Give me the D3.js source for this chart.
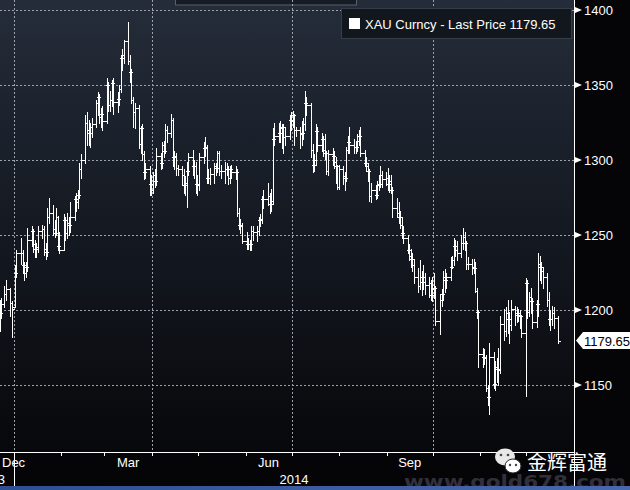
<!DOCTYPE html>
<html><head><meta charset="utf-8">
<script src="https://cdn.jsdelivr.net/npm/d3@7"></script>
<style>html,body{margin:0;padding:0;background:#000;overflow:hidden}</style>
</head><body>
<svg id="c" width="630" height="490"></svg>
<script>
// ---- data (XAU daily OHLC, Dec 23 2013 .. Dec 22 2014, trading days) ----
const firstDay = "2013-12-23", lastDay = "2014-12-22";
const holidays = ["2013-12-25", "2014-01-01"];
const open = [
 1197,1198,1204,1211,1214,1205,
 1202,1225,1238,1238,1230,1225,1229,1247,1253,1244,1241,1242,1253,1254,1241,1239,1262,1265,1254,1251,1262,1243,
 1240,1260,1251,1258,1257,1262,1274,1272,1277,1294,1300,1325,1320,1318,1322,1324,1338,1342,1329,1331,
 1326,1350,1337,1340,1351,1339,1341,1347,1368,1370,1379,1366,1359,1340,1332,1335,1311,1321,1304,1292,1294,
 1284,1280,1290,1286,1303,1298,1310,1306,1320,1318,1327,1302,1303,1295,1294,1290,1283,1285,1293,1302,1296,1296,
 1284,1283,1302,1308,1309,1288,1288,1291,1296,1295,1305,1293,1293,1294,1294,1288,1294,1292,1292,1265,1257,1256,
 1246,1244,1244,1244,1253,1252,1253,1260,1261,1274,1274,1276,1271,1273,1314,1316,1318,1321,1322,1315,1316,
 1327,1326,1330,1320,1320,1317,1318,1324,1338,1337,1307,1297,1300,1319,1310,1314,1307,1305,1293,1304,1303,1299,1296,
 1282,1294,1289,1288,1307,1312,1310,1309,1309,1313,1316,1305,1298,1296,1293,1276,1280,1277,1283,1284,1290,
 1287,1288,1284,1286,1280,1268,1265,1262,1257,1251,1248,1240,1236,1234,1230,1222,1216,1222,1219,1222,1217,1218,
 1210,1214,1215,1193,1207,1211,1222,1220,1222,1229,1233,1243,1240,1238,1245,1249,1245,1231,1231,1229,1228,1213,1199,
 1171,1169,1168,1148,1142,1169,1151,1162,1161,1160,1191,1186,1198,1194,1190,1201,1197,1198,1197,1196,
 1185,1218,1199,1209,1206,1192,1204,1231,1229,1226,1222,1207,1194,1194,1198,1195
];
const high = [
 1207,1208,1216,1220,1215,1206,
 1230,1240,1248,1240,1232,1232,1255,1256,1254,1247,1245,1256,1257,1256,1245,1268,1275,1270,1260,1268,1263,1252,
 1264,1262,1265,1262,1272,1276,1278,1280,1298,1304,1330,1332,1327,1325,1328,1340,1345,1344,1335,1336,
 1355,1352,1346,1353,1355,1345,1350,1370,1374,1380,1392,1370,1361,1342,1338,1337,1323,1324,1306,1298,1296,
 1290,1292,1294,1308,1305,1312,1313,1324,1323,1331,1328,1306,1305,1297,1296,1294,1289,1299,1305,1307,1300,1299,
 1290,1305,1312,1315,1310,1294,1295,1298,1298,1306,1306,1297,1299,1298,1296,1296,1297,1296,1294,1268,1261,1258,
 1252,1248,1247,1256,1256,1256,1262,1264,1276,1280,1285,1278,1281,1321,1325,1325,1326,1324,1324,1322,1330,
 1332,1333,1331,1322,1322,1326,1328,1346,1342,1338,1311,1304,1324,1322,1318,1316,1317,1306,1307,1308,1306,1302,1297,
 1297,1296,1292,1309,1316,1322,1314,1313,1317,1320,1322,1307,1302,1298,1294,1285,1283,1286,1290,1296,1293,
 1292,1295,1290,1290,1282,1275,1272,1266,1262,1256,1250,1244,1241,1238,1234,1228,1233,1226,1230,1225,1222,1220,
 1222,1225,1216,1211,1214,1226,1227,1225,1235,1236,1248,1247,1246,1250,1255,1252,1246,1235,1234,1234,1232,1215,1200,
 1175,1174,1170,1150,1178,1172,1166,1168,1175,1196,1201,1202,1207,1199,1207,1203,1202,1201,1200,1197,
 1221,1220,1212,1215,1208,1207,1238,1236,1232,1229,1225,1212,1200,1203,1202,1196
];
const low = [
 1186,1195,1202,1207,1196,1182,
 1202,1222,1231,1225,1220,1222,1226,1243,1239,1235,1235,1239,1248,1237,1234,1236,1258,1250,1249,1250,1240,1238,
 1240,1247,1248,1250,1252,1260,1266,1268,1275,1288,1298,1310,1310,1309,1315,1322,1330,1325,1322,1320,
 1325,1333,1333,1336,1331,1332,1337,1345,1360,1365,1364,1352,1338,1322,1321,1308,1305,1300,1287,1288,1277,
 1277,1278,1282,1283,1294,1295,1302,1305,1312,1315,1296,1294,1290,1290,1283,1278,1277,1269,1290,1290,1288,1278,
 1277,1280,1298,1303,1285,1285,1284,1285,1290,1292,1290,1288,1285,1290,1284,1285,1288,1287,1263,1254,1251,1245,
 1241,1241,1240,1240,1247,1246,1250,1256,1258,1268,1270,1265,1266,1271,1310,1312,1312,1308,1305,1310,1314,
 1320,1322,1310,1316,1308,1310,1314,1320,1330,1302,1292,1293,1297,1306,1306,1303,1301,1291,1290,1297,1295,1285,1281,
 1281,1284,1280,1286,1305,1305,1305,1305,1306,1310,1303,1296,1293,1286,1273,1272,1274,1275,1280,1282,1282,
 1283,1280,1279,1278,1262,1262,1258,1255,1248,1245,1238,1233,1229,1226,1218,1212,1214,1210,1214,1211,1209,1207,
 1206,1208,1190,1184,1203,1207,1212,1215,1220,1228,1230,1236,1233,1235,1241,1240,1227,1227,1224,1225,1212,1195,1162,
 1162,1164,1146,1137,1131,1148,1147,1152,1150,1158,1180,1183,1185,1178,1187,1190,1192,1193,1188,1182,
 1143,1195,1196,1198,1188,1189,1196,1220,1218,1215,1203,1190,1187,1190,1188,1178
];
const close = [
 1198,1204,1211,1214,1205,1201,
 1225,1238,1238,1230,1225,1229,1247,1253,1244,1241,1242,1253,1254,1241,1239,1262,1265,1254,1251,1262,1243,1240,
 1260,1251,1258,1257,1262,1274,1272,1277,1294,1300,1325,1320,1318,1322,1324,1338,1342,1329,1331,1326,
 1350,1337,1340,1351,1339,1341,1347,1368,1370,1379,1366,1359,1340,1332,1335,1311,1321,1304,1292,1294,1284,
 1280,1290,1286,1303,1298,1310,1306,1320,1318,1327,1302,1303,1295,1294,1290,1283,1285,1293,1302,1296,1296,1284,
 1283,1302,1308,1309,1288,1288,1291,1296,1295,1305,1293,1293,1294,1294,1288,1294,1292,1292,1265,1257,1256,1246,
 1244,1244,1244,1253,1252,1253,1260,1261,1274,1274,1276,1271,1273,1314,1316,1318,1321,1322,1315,1316,1327,
 1326,1330,1320,1320,1317,1318,1324,1338,1337,1307,1297,1300,1319,1310,1314,1307,1305,1293,1304,1303,1299,1296,1282,
 1294,1289,1288,1307,1312,1310,1309,1309,1313,1316,1305,1298,1296,1293,1276,1280,1277,1283,1284,1290,1287,
 1288,1284,1286,1280,1268,1265,1262,1257,1251,1248,1240,1236,1234,1230,1222,1216,1222,1219,1222,1217,1218,1210,
 1214,1215,1193,1207,1211,1222,1220,1222,1229,1233,1243,1240,1238,1245,1249,1245,1231,1231,1229,1228,1213,1199,1171,
 1169,1168,1148,1142,1169,1151,1162,1161,1160,1191,1186,1198,1194,1190,1201,1197,1198,1197,1196,1185,
 1218,1199,1209,1206,1192,1204,1231,1229,1226,1222,1207,1194,1194,1198,1195,1179.65
];
const yTicks = [1150, 1200, 1250, 1300, 1350, 1400];
const monthLabels = [["2013-12-01","Dec"],["2014-03-01","Mar"],["2014-06-01","Jun"],["2014-09-01","Sep"]];
const gridMonths = ["2014-01-01","2014-04-01","2014-07-01","2014-10-01"];
const yearLabels = [["2013","2013"],["2014","2014"]];
const lastPrice = 1179.65;
const legendText = "XAU Curncy - Last Price 1179.65";

// ---- drawing ----
const pd = s => { const [y,m,d] = s.split("-").map(Number); return new Date(y, m-1, d); };
const dates = [];
for (let d = pd(firstDay); d <= pd(lastDay); d = new Date(d.getFullYear(), d.getMonth(), d.getDate()+1)) {
  const wd = d.getDay();
  if (wd === 0 || wd === 6) continue;
  const key = d3.timeFormat("%Y-%m-%d")(d);
  if (holidays.includes(key)) continue;
  dates.push(new Date(d));
}
const n = Math.min(dates.length, close.length);

const W = 630, H = 490, plotR = 574, plotB = 452;
const x = d3.scaleTime().domain([new Date(2013,11,23), new Date(2015,0,1)]).range([0, plotR]);
const y = d3.scaleLinear().domain([1150, 1400]).range([385, 10]);

const svg = d3.select("#c");
const defs = svg.append("defs");
const bg = defs.append("linearGradient").attr("id","bg").attr("x1",0).attr("y1",0).attr("x2",0).attr("y2",1);
bg.append("stop").attr("offset","0%").attr("stop-color","#252d3a");
bg.append("stop").attr("offset","45%").attr("stop-color","#161b24");
bg.append("stop").attr("offset","100%").attr("stop-color","#07080b");
const blue = defs.append("linearGradient").attr("id","blue").attr("x1",0).attr("y1",0).attr("x2",1).attr("y2",0);
blue.append("stop").attr("offset","0%").attr("stop-color","#324e92");
blue.append("stop").attr("offset","100%").attr("stop-color","#4a66ae");

svg.append("rect").attr("width",W).attr("height",H).attr("fill","#050507");
svg.append("rect").attr("width",plotR).attr("height",plotB).attr("fill","url(#bg)");

// top remnant panel
svg.append("rect").attr("x",175.5).attr("y",-2).attr("width",181).attr("height",7)
  .attr("fill","#171c24").attr("stroke","#586070");

// grid
const grid = svg.append("g").attr("stroke","#9ea3ab").attr("stroke-dasharray","2,2").attr("shape-rendering","crispEdges");
yTicks.forEach(v => grid.append("line").attr("x1",0).attr("x2",plotR).attr("y1",Math.round(y(v))+0.5).attr("y2",Math.round(y(v))+0.5));
gridMonths.forEach(s => { const xx = Math.round(x(pd(s)))+0.5;
  grid.append("line").attr("x1",xx).attr("x2",xx).attr("y1",0).attr("y2",plotB); });

// OHLC bars
const bars = svg.append("g").attr("fill","#ffffff").attr("shape-rendering","crispEdges");
for (let i = 0; i < n; i++) {
  const xi = Math.floor(x(dates[i]));
  const yh = Math.round(y(high[i])), yl = Math.round(y(low[i]));
  bars.append("rect").attr("x",xi).attr("y",yh).attr("width",1).attr("height",Math.max(1,yl-yh+1));
  bars.append("rect").attr("x",xi-2).attr("y",Math.round(y(open[i]))).attr("width",2).attr("height",1);
  bars.append("rect").attr("x",xi+1).attr("y",Math.round(y(close[i]))).attr("width",2).attr("height",1);
}

// axes
const ax = svg.append("g").attr("stroke","#ffffff").attr("shape-rendering","crispEdges");
ax.append("line").attr("x1",plotR+0.5).attr("x2",plotR+0.5).attr("y1",0).attr("y2",H);
ax.append("line").attr("x1",0).attr("x2",plotR).attr("y1",plotB+0.5).attr("y2",plotB+0.5);
d3.timeMonths(new Date(2014,0,1), new Date(2015,0,1)).forEach(m => {
  const xx = Math.round(x(m))+0.5;
  ax.append("line").attr("x1",xx).attr("x2",xx).attr("y1",plotB).attr("y2",plotB+4);
});
const xJan = Math.round(x(new Date(2014,0,1)))+0.5;
ax.append("line").attr("x1",xJan).attr("x2",xJan).attr("y1",plotB).attr("y2",H);

const font = "'Liberation Sans', Arial, sans-serif";
yTicks.forEach(v => {
  const yy = Math.round(y(v));
  svg.append("path").attr("d",`M${plotR+1},${yy-3}L${plotR+8},${yy}L${plotR+1},${yy+3}Z`).attr("fill","#fff");
  svg.append("text").attr("x",584).attr("y",yy+4.5).attr("fill","#fff")
    .attr("font-family",font).attr("font-size",13).text(v);
});
const ly = y(lastPrice);
svg.append("path").attr("d",`M${plotR+2},${ly}L${plotR+9},${ly-8.5}L${W},${ly-8.5}L${W},${ly+8.5}L${plotR+9},${ly+8.5}Z`).attr("fill","#fff");
svg.append("text").attr("x",584).attr("y",ly+5).attr("fill","#000")
  .attr("font-family",font).attr("font-size",13).text(lastPrice.toFixed(2));

monthLabels.forEach(([s,t]) => {
  const a = pd(s), b = d3.timeMonth.offset(a,1);
  const cx = (x(a)+x(b))/2;
  const el = svg.append("text").attr("y",467).attr("fill","#fff").attr("font-family",font).attr("font-size",13).text(t);
  if (cx < 12) el.attr("x",2).attr("text-anchor","start");
  else el.attr("x",cx).attr("text-anchor","middle");
});
svg.append("text").attr("x",5).attr("y",484).attr("text-anchor","end").attr("fill","#fff")
  .attr("font-family",font).attr("font-size",13).text(yearLabels[0][1]);
svg.append("text").attr("x",(x(new Date(2014,0,1))+plotR)/2).attr("y",484).attr("text-anchor","middle").attr("fill","#fff")
  .attr("font-family",font).attr("font-size",13).text(yearLabels[1][1]);

// legend
svg.append("rect").attr("x",341.5).attr("y",8.5).attr("width",230).attr("height",30)
  .attr("fill","#12161d").attr("stroke","#363c48");
svg.append("rect").attr("x",349).attr("y",18).attr("width",11).attr("height",11).attr("fill","#fff");
svg.append("text").attr("x",365).attr("y",29).attr("fill","#fff").attr("font-family",font).attr("font-size",13).text(legendText);

// watermark
svg.append("text").attr("x",404).attr("y",488).attr("fill","#3a3744").attr("opacity",0.85)
  .attr("font-family","'DejaVu Sans', sans-serif").attr("font-weight","bold").attr("font-size",17)
  .attr("textLength",222).attr("lengthAdjust","spacingAndGlyphs").text("www.gold678.com");
svg.append("rect").attr("x",0).attr("y",486).attr("width",W).attr("height",4).attr("fill","url(#blue)");
const wc = svg.append("g");
wc.append("ellipse").attr("cx",505).attr("cy",457).attr("rx",10).attr("ry",8.5).attr("fill","#e8e8e8");
wc.append("ellipse").attr("cx",513).attr("cy",466).attr("rx",8).attr("ry",7).attr("fill","#ffffff").attr("stroke","#222").attr("stroke-width",1);
[[501,455],[508,455]].forEach(([a,b])=>wc.append("circle").attr("cx",a).attr("cy",b).attr("r",1.3).attr("fill","#444"));
[[510,465],[516,465]].forEach(([a,b])=>wc.append("circle").attr("cx",a).attr("cy",b).attr("r",1.2).attr("fill","#444"));
svg.append("text").attr("x",527).attr("y",470).attr("fill","#fff")
  .attr("font-family","'Noto Sans CJK SC', sans-serif").attr("font-size",20).text("金辉富通");
</script>
</body></html>
